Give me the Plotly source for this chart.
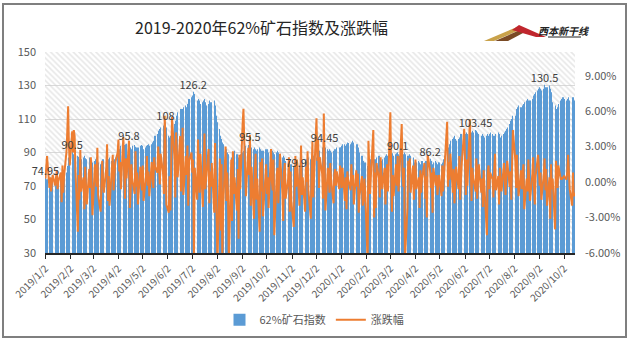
import pandas as pd
import plotly.graph_objects as go

# ---------------- data ----------------
idx_2019 = [
    # Jan
    74.95, 73.5, 74, 74.5, 75, 74, 73, 72.5, 74, 75, 74, 73.5, 74, 75, 76, 75.5, 74, 76, 78, 82, 86, 87,
    # Feb
    88, 90.5, 89, 88, 87, 86, 88, 87.5, 86, 85, 86, 87, 88, 86.5, 85, 86, 87, 85, 84, 85,
    # Mar
    84, 85, 86, 87, 86, 84, 83, 84, 85, 86, 85, 84, 83, 84, 86, 87, 85, 84, 85, 86, 87,
    # Apr
    88, 90, 92, 93, 94, 93.5, 94, 94.5, 95, 95.2, 95.8, 94, 93, 92, 94, 94.5, 93.5, 93, 92, 93, 94, 94.5,
    # May
    94, 93, 92, 93, 94, 94.5, 95, 94, 95, 96, 97, 99, 100, 101, 102, 103, 104, 105, 106, 106, 107, 108, 105,
    # Jun
    100, 99, 100, 103, 105, 107, 109, 110, 112, 114, 115, 116, 114, 116, 117, 118, 117, 119, 121, 122,
    # Jul
    123, 124, 126.2, 125, 122, 120, 121, 122, 121, 119, 120, 121, 122, 120, 118, 119, 121, 120, 119, 120, 121, 118, 116,
    # Aug
    112, 108, 104, 100, 98, 96, 95, 93, 92, 90, 89, 88, 87, 88, 89, 90, 91, 89, 88, 87, 88, 89,
    # Sep
    90, 91, 92, 93, 94, 94.5, 95, 95.5, 94, 93, 92, 93, 92, 91, 92, 93, 92, 91, 90, 91, 92,
    # Oct
    91, 92, 91, 90, 91, 92, 91, 90, 89, 90, 91, 90, 89, 88, 87, 88, 87, 86, 85, 86, 85, 84, 83,
    # Nov
    83, 82, 81, 80.5, 79.9, 81, 82, 83, 84, 85, 84, 85, 86, 85, 86, 87, 86, 85, 86, 87, 88,
    # Dec
    87, 88, 89, 90, 91, 92, 93, 93.5, 94.45, 93, 92, 91, 92, 91, 90, 91, 92, 91, 92, 93, 92, 93,
]
idx_2020 = [
    # Jan
    93, 94, 95, 95, 94, 95, 96, 95.6, 95, 96, 97, 96, 95, 94, 95, 94, 93, 90, 88, 86, 85, 84, 84,
    # Feb
    82, 83, 84, 85, 86, 87, 86, 85, 86, 87, 88, 87, 86, 85, 86, 87, 88, 89, 88, 87,
    # Mar
    88, 89, 89.5, 89, 88, 89, 89.5, 90.1, 89, 88, 87, 88, 89, 90, 89, 88, 87, 88, 89, 88, 87, 86,
    # Apr
    84, 83, 84, 85, 84, 83, 84, 85, 84, 85, 84, 85, 86, 86.2, 85, 84, 83, 84, 85, 84, 83, 84,
    # May
    84, 83, 84, 85, 86, 88, 90, 92, 93, 95, 97, 98, 99, 100, 98, 97, 98, 99, 100, 101, 100,
    # Jun
    100, 101, 101, 102, 101, 100, 101, 102, 103, 102, 103.45, 103, 102, 101, 100, 99, 100, 101, 100, 99, 100, 101,
    # Jul
    100, 101, 102, 101, 100, 99, 100, 101, 102, 101, 100, 99, 100, 101, 102, 103, 104, 105, 107, 109, 110, 111, 112,
    # Aug
    112, 114, 116, 117, 118, 117, 116, 118, 119, 120, 121, 122, 121, 120, 121, 122, 123, 124, 125, 126, 127,
    # Sep
    128, 129, 128, 127, 128, 130.5, 129, 128, 129, 130, 128, 126, 123, 120, 118, 116, 115, 117, 119, 121, 122, 123,
    # Oct
    123, 122, 121, 122, 123, 122, 121, 122, 123, 122, 121,
]

chg_2019 = [
    0.3, 1.2, 2.2, -0.5, 0.4, -0.8, 0.2, 0.6, -0.3, 0.5, 1.0, -0.6, 0.1, 0.8, -1.7, 1.4, -0.9, 0.5, 2.6, 4.4, 6.4, 3.1,
    1.4, 4.3, 2.5, 4.4, 3.9, 1.0, -4.2, 0.6, -1.5, 2.7, -0.8, 0.4, -2.3, 1.3, 0.2, -1.9, 1.1, -0.5, 2.1, -1.2,
    -2.8, 1.5, 0.8, -0.4, 2.9, -1.1, -2.5, 0.6, 1.8, 0.3, -0.9, 1.2, 3.2, -1.6, 0.5, -2.0, 1.0, 2.3, -0.7, 0.4, 1.6,
    2.5, 3.6, 0.9, 1.7, -0.6, 3.8, 1.1, -1.4, 2.0, 0.3, 3.5, -2.2, -0.8, 1.5, 0.2, -1.0, 2.6, -0.4, 0.8, -1.9, 1.3, 0.5,
    -0.7, 1.4, -1.6, 0.6, 2.2, -0.3, 0.9, -1.2, 1.7, 0.4, -0.5, 2.1, 1.3, 0.8, 3.0, 1.1, -0.2, 2.4, 0.7, -1.0, 5.6, 3.2, -1.9,
    -2.6, 0.5, -2.4, 1.8, 5.5, 2.0, -1.3, 4.2, 1.6, 0.4, 3.9, -0.8, 1.5, 4.6, -1.1, 2.2, 0.6, 3.1, -2.0, 1.8,
    2.5, 0.8, 1.9, -6.5, 1.2, -1.5, 3.6, 0.3, -0.9, 2.4, -2.1, 1.0, 4.1, -0.6, 0.2, 2.8, -1.8, 0.9, -0.4, 1.6, -2.6, 3.3, 0.5,
    -2.5, -6.8, 2.0, -4.1, 1.5, -6.5, -2.2, 3.0, -1.6, 0.8, -1.0, -6.9, 1.9, -3.3, 2.6, -1.0, 0.4, -2.4, 1.1, -4.8, 2.3, -0.6,
    4.9, 6.2, 3.5, 1.8, -1.2, 2.9, 0.6, 4.0, -2.0, 1.3, -3.1, 0.9, 2.4, -1.5, 0.3, -4.2, 1.7, -0.8, 2.0, -2.9, 0.6,
    1.5, -1.0, 0.4, -2.2, 2.8, 0.1, -0.7, 1.9, -4.5, 0.6, 1.2, -1.8, 0.3, 2.4, -0.9, -3.3, 0.8, 1.6, -1.4, 0.2, 2.1, -2.5, 0.9,
    -1.6, -3.8, -0.8, 2.2, -0.4, 1.9, -2.0, 0.6, 3.1, -1.1, 0.4, -2.5, 1.3, 0.0, 2.6, -0.7, -3.1, 1.0, 3.4, -1.3, 0.8,
    5.4, 1.8, 3.6, -0.5, 2.1, 0.7, -1.4, 5.8, 0.3, -2.4, 1.2, 0.5, -0.9, 1.6, 0.2, -1.8, 0.7, 1.1, -0.3, 0.9, -0.6, 1.4,
]
chg_2020 = [
    0.8, -0.5, 1.2, -1.6, 0.4, -2.3, 0.9, 0.2, -0.7, 1.5, -0.3, 0.6, -1.9, 1.0, -0.4, 0.7, -2.6, -1.2, 0.5, -2.0, -1.5, 0.3, -0.8,
    -6.8, 3.5, 1.2, -1.0, 0.5, 4.4, -3.0, 0.8, -2.2, 1.6, 0.3, -1.3, 2.1, 0.5, -0.6, 1.2, -1.9, 0.4, 1.5, -0.8,
    5.9, 1.0, -2.5, 0.6, -1.2, 1.5, -0.3, 2.2, -0.8, 0.4, 4.9, 0.9, -0.4, 1.2, -6.5, -2.3, 1.8, 0.7, 2.0, -0.9, 1.4, -1.5,
    0.8, 1.9, -0.6, 0.4, -2.2, 1.0, -0.9, 0.3, 1.6, -1.4, 0.5, -3.0, 2.3, 1.0, -0.5, 0.8, -2.6, 1.2, -0.3, 0.6, -1.1, 0.2,
    0.6, -1.2, 1.4, -0.8, 0.3, 2.0, 5.1, -0.4, 1.7, 0.2, 2.4, -0.9, 1.1, -1.8, 0.5, 1.3, -0.6, 2.2, -1.5, 0.9, 1.6,
    4.5, 0.8, -1.1, 1.9, -0.3, 5.3, 0.7, -1.6, 1.2, 0.4, -0.8, 2.0, -1.4, 0.6, 1.5, -0.9, 0.3, -2.1, 1.0, -0.5, -4.5, 0.9,
    1.4, -0.6, 0.8, 0.2, -1.3, 1.1, 2.4, -0.7, 0.5, -1.9, 1.2, 0.1, -0.8, 1.6, 0.4, -1.1, 0.7, 1.8, -0.4, 0.9, -1.5, 0.6, 4.4,
    1.8, -0.5, 2.3, 0.4, -1.2, 1.0, -0.6, 0.8, 1.5, -2.3, 0.3, -0.8, 1.9, 0.2, -1.6, 0.7, 2.1, -0.4, -1.9, 0.5, 2.3,
    1.2, -0.3, 0.8, -1.5, 0.6, 2.0, -0.7, 1.1, -2.0, 0.4, -3.1, 1.5, -0.6, 0.3, -4.0, 1.8, 0.9, -0.5, 1.4, 0.2, 0.4, 0.3,
    0.4, 0.5, 0.2, 0.9, 2.3, 0.1, -0.6, -2.0, 0.8, -1.2, -0.9,
]

label_values = [74.95, 90.5, 95.8, 108, 126.2, 95.5, 79.9, 94.45, 90.1, 86.2, 103.45, 130.5]

tick_labels = [
    "2019/1/2", "2019/2/2", "2019/3/2", "2019/4/2", "2019/5/2", "2019/6/2", "2019/7/2",
    "2019/8/2", "2019/9/2", "2019/10/2", "2019/11/2", "2019/12/2", "2020/1/2", "2020/2/2",
    "2020/3/2", "2020/4/2", "2020/5/2", "2020/6/2", "2020/7/2", "2020/8/2", "2020/9/2", "2020/10/2",
]
right_ticks = [-6, -3, 0, 3, 6, 9]
left_ticks = [30, 50, 70, 90, 110, 130, 150]

series_name_bar = "62%矿石指数"
series_name_line = "涨跌幅"
title_text = "2019-2020年62%矿石指数及涨跌幅"

# ---------------- build ----------------
index_vals = idx_2019 + idx_2020
change_vals = chg_2019 + chg_2020
n = min(len(index_vals), len(change_vals))
index_vals = index_vals[:n]
change_vals = change_vals[:n]
dates = pd.bdate_range("2019-01-02", periods=n)

# find labelled points sequentially
lab_x, lab_y, lab_t = [], [], []
start = 0
for v in label_values:
    for i in range(start, n):
        if abs(index_vals[i] - v) < 1e-9:
            lab_x.append(dates[i]); lab_y.append(v); lab_t.append(f"{v:g}")
            start = i + 1
            break

tickvals = pd.to_datetime(tick_labels, format="%Y/%m/%d")

x_start = dates[0] - pd.Timedelta(hours=12)
x_end = dates[-1] + pd.Timedelta(hours=12)

BLUE = "#5B9BD5"
ORANGE = "#ED7D31"
GRAY = "#595959"

W, H = 629, 341
L, R, T, B = 45, 54, 52, 88
PW, PH = W - L - R, H - T - B

def px(x):
    return (x - L) / PW

def py(y):
    return (H - B - y) / PH

fig = go.Figure()

# hatched plot background
fig.add_trace(go.Scatter(
    x=[x_start, x_end, x_end, x_start, x_start], y=[0, 0, 1, 1, 0],
    xaxis="x", yaxis="y", mode="lines", line=dict(width=0),
    fill="toself", fillcolor="rgba(0,0,0,0)",
    fillpattern=dict(shape="\\", fgcolor="#CFCFCF", bgcolor="rgba(0,0,0,0)", size=4, solidity=0.4),
    showlegend=False, hoverinfo="skip",
))

fig.add_trace(go.Bar(
    x=dates, y=index_vals, name=series_name_bar, yaxis="y2",
    marker=dict(color=BLUE, line=dict(width=0)),
    width=86400000 * 0.2,
))

fig.add_trace(go.Scatter(
    x=dates, y=change_vals, name=series_name_line, yaxis="y3",
    mode="lines", line=dict(color=ORANGE, width=2),
))

fig.add_trace(go.Scatter(
    x=lab_x, y=lab_y, text=lab_t, yaxis="y4", mode="text",
    textposition="top center", textfont=dict(size=11, color="#404040"),
    showlegend=False, hoverinfo="skip", cliponaxis=False,
))

fig.update_layout(
    width=W, height=H,
    margin=dict(l=L, r=R, t=T, b=B, autoexpand=False),
    paper_bgcolor="white", plot_bgcolor="white",
    font=dict(family="Noto Sans CJK SC, Noto Sans, sans-serif", color=GRAY, size=11),
    bargap=0.05,
    showlegend=True,
    legend=dict(
        orientation="h", xref="container", yref="container",
        x=0.5, xanchor="center", y=0.062, yanchor="middle",
        font=dict(size=11, color=GRAY), bgcolor="rgba(0,0,0,0)",
        itemwidth=30, tracegroupgap=0,
    ),
    xaxis=dict(
        type="date", range=[x_start, x_end], automargin=False,
        tickvals=tickvals, ticktext=tick_labels, tickangle=-45,
        tickfont=dict(size=10, color=GRAY),
        ticks="outside", ticklen=4, tickcolor="#262626",
        showline=True, linecolor="#262626", linewidth=1.5,
        showgrid=False, zeroline=False,
    ),
    yaxis=dict(range=[0, 1], visible=False, fixedrange=True),
    yaxis2=dict(
        overlaying="y", side="left", range=[30, 150], tickvals=left_ticks, automargin=False,
        showgrid=True, gridcolor="#D9D9D9", gridwidth=1,
        zeroline=False, showline=False, ticks="",
        tickfont=dict(size=11, color=GRAY), ticklabelstandoff=8,
    ),
    yaxis3=dict(
        overlaying="y", side="right", range=[-6, 11], tickvals=right_ticks, automargin=False,
        ticktext=[f"{v:.2f}%" for v in right_ticks],
        showgrid=False, zeroline=False, showline=False, ticks="",
        tickfont=dict(size=11, color=GRAY), ticklabelstandoff=9,
    ),
    yaxis4=dict(
        overlaying="y", range=[30, 150], visible=False, automargin=False,
    ),
)

# title
fig.add_annotation(
    text=title_text, xref="paper", yref="paper",
    x=px(261), y=py(27), xanchor="center", yanchor="middle", showarrow=False,
    font=dict(size=16, color="#262626", family="Noto Sans CJK SC"),
)

# logo
def path(points):
    return "M " + " L ".join(f"{px(a):.5f},{py(b):.5f}" for a, b in points) + " Z"

fig.add_shape(type="path", xref="paper", yref="paper", line=dict(width=0),
              fillcolor="#C9A24A", path=path([(484, 41), (517, 27), (522, 29), (494, 41)]))
fig.add_shape(type="path", xref="paper", yref="paper", line=dict(width=0),
              fillcolor="#7A4A24", path=path([(495, 41), (520, 30), (525, 32), (508, 41)]))
fig.add_shape(type="path", xref="paper", yref="paper", line=dict(width=0),
              fillcolor="#C0262D", path=path([(512, 30), (519, 25), (546, 37), (536, 37)]))
fig.add_shape(type="line", xref="paper", yref="paper", line=dict(width=1, color="#222222"),
              x0=px(548), x1=px(581), y0=py(37), y1=py(37))
fig.add_annotation(
    text="<b><i>西本新干线</i></b>", xref="paper", yref="paper",
    x=px(563), y=py(31), xanchor="center", yanchor="middle", showarrow=False,
    font=dict(size=10, color="#222222", family="Noto Sans CJK SC"),
)

# chart frame
fig.add_shape(type="rect", xref="paper", yref="paper",
              x0=px(3), x1=px(626), y0=py(337), y1=py(4),
              line=dict(color="#7F7F7F", width=2), fillcolor="rgba(0,0,0,0)", layer="above")

fig.write_html("out.html")
